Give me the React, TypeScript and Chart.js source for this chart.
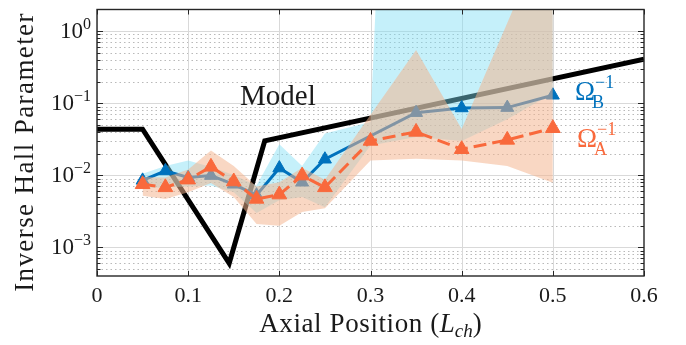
import React, { useEffect, useRef } from 'react';
import { Chart, registerables } from 'chart.js';

Chart.register(...registerables);

// ---------- data ----------
const positions = [0.05, 0.075, 0.1, 0.125, 0.15, 0.175, 0.2, 0.225, 0.25, 0.3, 0.35, 0.4, 0.45, 0.5];
const omegaB = [0.0085, 0.0115, 0.0093, 0.0099, 0.0075, 0.0053, 0.0126, 0.008, 0.0167, null, 0.074, 0.086, 0.087, 0.129];
const omegaBUpper = [0.0105, 0.0135, 0.016, 0.013, 0.0101, 0.0072, 0.027, 0.0135, 0.038, 0.055, 1e13, 1e13, 1e13, 1e13];
const omegaBLower = [0.0066, 0.0068, 0.007, 0.0072, 0.0058, 0.003, 0.0045, 0.005, 0.0036, 0.026, 0.034, 0.03, 0.06, 0.138];
const omegaA = [0.0075, 0.0068, 0.0087, 0.0131, 0.0082, 0.0047, 0.0054, 0.0099, 0.0068, 0.03, 0.04, 0.023, 0.031, 0.045];
const omegaAUpper = [0.0095, 0.0093, 0.012, 0.022, 0.0135, 0.007, 0.008, 0.0127, 0.0087, 0.069, 0.55, 0.044, 1.3, 40];
const omegaALower = [0.0052, 0.0047, 0.0058, 0.0078, 0.005, 0.0021, 0.002, 0.0031, 0.0035, 0.016, 0.017, 0.016, 0.0135, 0.0079];
const modelX = [0, 0.05, 0.145, 0.184, 0.6];
const modelY = [0.0437, 0.0437, 0.0006, 0.0301, 0.407];

const xTicks = [0, 0.1, 0.2, 0.3, 0.4, 0.5, 0.6];
const xTickLabels = ['0', '0.1', '0.2', '0.3', '0.4', '0.5', '0.6'];
const yTickExps = [0, -1, -2, -3];
const yMin = 4e-4;
const yMax = 2;

const xTitle = 'Axial Position (';
const yTitle = 'Inverse Hall Parameter';
const modelLabel = 'Model';

const BLUE = 'rgb(0,114,189)';
const ORANGE = 'rgb(249,105,60)';
const FONT = '"Liberation Serif", "Times New Roman", serif';

function pts(ys: (number | null)[]) {
  return positions.map((x, i) => ({ x, y: ys[i] }));
}

function font(size: number, italic = false) {
  return `${italic ? 'italic ' : ''}${size}px ${FONT}`;
}

type Piece = { t: string; f: string; dy?: number; ls?: number };

function drawPieces(ctx: CanvasRenderingContext2D, pieces: Piece[], x: number, y: number, align: 'left' | 'center' | 'right', color: string) {
  ctx.save();
  ctx.fillStyle = color;
  ctx.textAlign = 'left';
  ctx.textBaseline = 'alphabetic';
  const widths = pieces.map((p) => {
    ctx.font = p.f;
    (ctx as any).letterSpacing = (p.ls || 0) + 'px';
    return ctx.measureText(p.t).width;
  });
  const total = widths.reduce((a, b) => a + b, 0);
  let cx = align === 'left' ? x : align === 'center' ? x - total / 2 : x - total;
  pieces.forEach((p, i) => {
    ctx.font = p.f;
    (ctx as any).letterSpacing = (p.ls || 0) + 'px';
    ctx.fillText(p.t, cx, y + (p.dy || 0));
    cx += widths[i];
  });
  ctx.restore();
}

const decor = {
  id: 'decor',
  beforeDatasetsDraw(chart: any) {
    const { ctx, chartArea: a, scales } = chart;
    const x = scales.x;
    const y = scales.y;
    ctx.save();
    ctx.beginPath();
    ctx.rect(a.left, a.top, a.right - a.left, a.bottom - a.top);
    ctx.clip();
    // minor dotted horizontal grid
    ctx.strokeStyle = '#b9b9b9';
    ctx.lineWidth = 1;
    ctx.setLineDash([1.5, 3]);
    for (let e = -4; e <= 0; e++) {
      for (let m = 2; m <= 9; m++) {
        const v = m * Math.pow(10, e);
        if (v <= yMin || v >= yMax) continue;
        const py = Math.round(y.getPixelForValue(v)) + 0.5;
        ctx.beginPath();
        ctx.moveTo(a.left, py);
        ctx.lineTo(a.right, py);
        ctx.stroke();
      }
    }
    ctx.setLineDash([]);
    ctx.strokeStyle = '#d9d9d9';
    yTickExps.forEach((e) => {
      const py = Math.round(y.getPixelForValue(Math.pow(10, e))) + 0.5;
      ctx.beginPath();
      ctx.moveTo(a.left, py);
      ctx.lineTo(a.right, py);
      ctx.stroke();
    });
    xTicks.forEach((t) => {
      const px = Math.round(x.getPixelForValue(t)) + 0.5;
      ctx.beginPath();
      ctx.moveTo(px, a.top);
      ctx.lineTo(px, a.bottom);
      ctx.stroke();
    });
    ctx.restore();
  },
  afterDatasetsDraw(chart: any) {
    const { ctx, chartArea: a, scales } = chart;
    const x = scales.x;
    const y = scales.y;
    ctx.save();
    ctx.strokeStyle = '#262626';
    ctx.lineWidth = 1;
    const tick = (x1: number, y1: number, x2: number, y2: number) => {
      ctx.beginPath();
      ctx.moveTo(x1, y1);
      ctx.lineTo(x2, y2);
      ctx.stroke();
    };
    for (let e = -4; e <= 0; e++) {
      for (let m = 1; m <= 9; m++) {
        const v = m * Math.pow(10, e);
        if (v <= yMin || v >= yMax) continue;
        const py = Math.round(y.getPixelForValue(v)) + 0.5;
        const len = m === 1 ? 6 : 3.5;
        tick(a.left, py, a.left + len, py);
        tick(a.right, py, a.right - len, py);
      }
    }
    xTicks.forEach((t) => {
      const px = Math.round(x.getPixelForValue(t)) + 0.5;
      tick(px, a.bottom, px, a.bottom - 5);
      tick(px, a.top, px, a.top + 5);
    });
    ctx.lineWidth = 1.4;
    ctx.strokeRect(a.left, a.top, a.right - a.left, a.bottom - a.top);
    ctx.restore();
  },
  afterDraw(chart: any) {
    const { ctx, chartArea: a, scales } = chart;
    const x = scales.x;
    const y = scales.y;
    const ink = '#1a1a1a';
    xTicks.forEach((t, i) => {
      drawPieces(ctx, [{ t: xTickLabels[i], f: font(22) }], x.getPixelForValue(t), 302, 'center', ink);
    });
    yTickExps.forEach((e) => {
      const py = y.getPixelForValue(Math.pow(10, e));
      const ex = e === 0 ? '0' : '\u2212' + Math.abs(e);
      drawPieces(ctx, [
        { t: '10', f: font(23) },
        { t: ex, f: font(16), dy: -9 },
      ], a.left - 6, py + 7, 'right', ink);
    });
    drawPieces(ctx, [
      { t: xTitle, f: font(27), ls: 0.6 },
      { t: 'L', f: font(27, true) },
      { t: 'ch', f: font(19, true), dy: 5 },
      { t: ')', f: font(27) },
    ], (a.left + a.right) / 2, 332, 'center', ink);
    ctx.save();
    ctx.translate(33, 152);
    ctx.rotate(-Math.PI / 2);
    drawPieces(ctx, [{ t: yTitle, f: font(27), ls: 1.4 }], 0, 0, 'center', ink);
    ctx.restore();
    drawPieces(ctx, [{ t: modelLabel, f: font(29) }], 240, 105, 'left', ink);
    const omega = (sub: string, xx: number, yy: number, color: string) => {
      ctx.save();
      ctx.font = font(27);
      const w = ctx.measureText('\u03A9').width;
      ctx.restore();
      drawPieces(ctx, [{ t: '\u03A9', f: font(27) }], xx, yy, 'left', color);
      drawPieces(ctx, [{ t: sub, f: font(18) }], xx + w - 3, yy + 8, 'left', color);
      drawPieces(ctx, [{ t: '\u22121', f: font(18) }], xx + w, yy - 12, 'left', color);
    };
    omega('B', 575, 100, BLUE);
    omega('A', 577, 147, ORANGE);
  },
};

export default function App() {
  const ref = useRef<HTMLCanvasElement>(null);
  useEffect(() => {
    document.body.style.margin = '0';
    const chart = new Chart(ref.current as HTMLCanvasElement, {
      type: 'line',
      data: {
        datasets: [
          {
            label: 'OmegaA',
            data: pts(omegaA),
            borderColor: ORANGE,
            backgroundColor: ORANGE,
            borderWidth: 3,
            borderDash: [13, 6],
            pointStyle: 'triangle',
            pointRadius: 8.5,
            pointBorderWidth: 1,
            pointBorderColor: ORANGE,
            pointBackgroundColor: ORANGE,
            fill: false,
            order: 1,
          },
          {
            label: 'OmegaA upper',
            data: pts(omegaAUpper),
            borderWidth: 0,
            borderColor: 'rgba(0,0,0,0)',
            pointRadius: 0,
            backgroundColor: 'rgba(243,179,142,0.53)',
            fill: '+1',
            order: 2,
          },
          {
            label: 'OmegaA lower',
            data: pts(omegaALower),
            borderWidth: 0,
            borderColor: 'rgba(0,0,0,0)',
            pointRadius: 0,
            fill: false,
            order: 2,
          },
          {
            label: 'OmegaB',
            data: pts(omegaB),
            borderColor: BLUE,
            backgroundColor: BLUE,
            borderWidth: 3,
            pointStyle: 'triangle',
            pointRadius: 7.5,
            pointBorderWidth: 1,
            pointBorderColor: BLUE,
            pointBackgroundColor: BLUE,
            spanGaps: true,
            fill: false,
            order: 3,
          },
          {
            label: 'OmegaB upper',
            data: pts(omegaBUpper),
            borderWidth: 0,
            borderColor: 'rgba(0,0,0,0)',
            pointRadius: 0,
            backgroundColor: 'rgba(126,222,244,0.45)',
            fill: '+1',
            order: 4,
          },
          {
            label: 'OmegaB lower',
            data: pts(omegaBLower),
            borderWidth: 0,
            borderColor: 'rgba(0,0,0,0)',
            pointRadius: 0,
            fill: false,
            order: 4,
          },
          {
            label: 'Model',
            data: modelX.map((x, i) => ({ x, y: modelY[i] })),
            borderColor: '#000000',
            borderWidth: 5,
            borderJoinStyle: 'miter',
            pointRadius: 0,
            fill: false,
            order: 5,
          },
        ] as any,
      },
      options: {
        animation: false,
        responsive: false,
        events: [],
        layout: { padding: { left: 97, right: 42, top: 2, bottom: 69 } },
        elements: { line: { tension: 0 } },
        plugins: {
          legend: { display: false },
          tooltip: { enabled: false },
        },
        scales: {
          x: { type: 'linear', min: 0, max: 0.6, display: false },
          y: { type: 'logarithmic', min: yMin, max: yMax, display: false },
        },
      },
      plugins: [decor],
    });
    return () => chart.destroy();
  }, []);
  return (
    <div style={{ position: 'absolute', left: 0, top: 0, width: 686, height: 345, background: '#fff' }}>
      <canvas ref={ref} width={686} height={345} style={{ display: 'block' }} />
    </div>
  );
}
